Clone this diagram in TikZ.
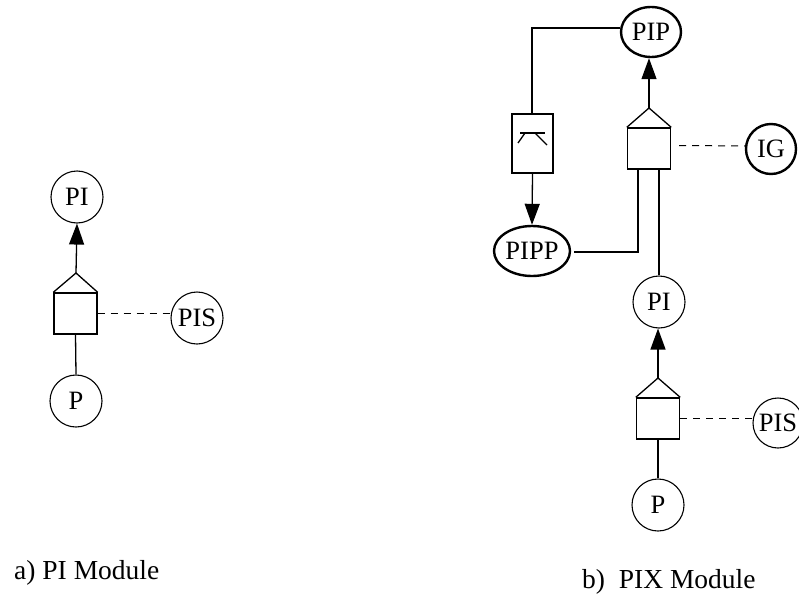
\documentclass[tikz,border=0pt]{standalone}
\usepackage{fontspec}
\setmainfont{Liberation Serif}
\usetikzlibrary{shapes.geometric,arrows.meta,calc}
\tikzset{
  place/.style={draw,ellipse,inner sep=0pt,line width=1.1pt,minimum width=52pt,minimum height=52pt,
    font=\fontsize{26.5}{26.5}\selectfont,text height=17.5pt,text depth=0pt,text width=0pt,align=center},
  heavy/.style={place,line width=2.4pt},
  gate/.style={draw,rectangle,inner sep=0pt,line width=1.4pt,minimum width=43pt,minimum height=41pt},
  wire/.style={line width=1.3pt},
  flow/.style={wire,-{Triangle[length=21pt,width=15pt]}},
  ctrl/.style={line width=1pt,dash pattern=on 7pt off 6pt},
  caption/.style={font=\fontsize{27.5}{30}\selectfont,anchor=base west,inner sep=0pt}
}
\newcommand{\mklabel}[1]{\makebox[0pt]{#1}}
\begin{document}
\begin{tikzpicture}[x=1pt,y=-1pt]
\useasboundingbox (0,0) rectangle (799,594);
% a) PI module
\node[place] (api) at (77,197) {\mklabel{PI}};
\node[place] (apis) at (197,318) {\mklabel{PIS}};
\node[place] (ap) at (76,401) {\mklabel{P}};
\node[gate] (abox) at (75.5,313.5) {};
\coordinate (aapex) at (76,273);
\draw[wire] (abox.north west) -- (aapex) -- (abox.north east);
\draw[flow] (aapex) -- (api.south);
\draw[wire] (abox.south) -- (ap.north);
\coordinate (adash) at (abox.east);
\draw[ctrl] (adash) -- (apis.west |- adash);
\node[caption] (acap) at (14,579) {a) PI Module};
% b) PIX module
\node[heavy,minimum width=60pt,minimum height=50pt] (pip) at (651,32) {\mklabel{PIP}};
\node[heavy,minimum width=50pt,minimum height=50pt] (ig) at (771,149) {\mklabel{IG}};
\node[heavy,minimum width=76pt,minimum height=50pt] (pipp) at (532,251) {\mklabel{PIPP}};
\node[gate] (ubox) at (649,148.5) {};
\coordinate (uapex) at (649,108);
\draw[wire] (ubox.north west) -- (uapex) -- (ubox.north east);
\draw[flow] (uapex) -- (pip.south -| uapex);
\coordinate (udash) at (ubox.east);
\draw[ctrl] ($(udash)+(8,-3)$) -- (ig.west |- 0,146);
\node[gate,minimum width=41pt,minimum height=59pt] (dbox) at (532.5,143.5) {};
\coordinate (dtop) at (532,28);
\draw[wire] (dbox.north -| dtop) -- (dtop) -- (pip.west |- dtop);
\draw[flow] (dbox.south) -- (pipp.north);
\draw[wire,line width=1.6pt] (520,133) -- (545,133);
\draw[wire] (525,133) -- (518,143) (535,133) -- (547,145);
\coordinate (pippin) at (638,252);
\draw[wire] (574,252) -- (pippin) -- (pippin |- ubox.south);
\node[place] (bpi) at (659,302) {\mklabel{PI}};
\draw[wire] (bpi.north) -- (bpi.north |- ubox.south);
\node[place,minimum width=50pt,minimum height=50pt] (bpis) at (778,423) {\mklabel{PIS}};
\node[place] (bp) at (658,505) {\mklabel{P}};
\node[gate] (bbox) at (658,418.5) {};
\coordinate (bapex) at (658,378);
\draw[wire] (bbox.north west) -- (bapex) -- (bbox.north east);
\draw[flow] (bapex) -- (bpi.south -| bapex);
\draw[wire] (bbox.south) -- (bp.north);
\coordinate (bdash) at (bbox.east);
\draw[ctrl] (bdash) -- (bpis.west |- bdash);
\node[caption] (bcap) at (582,588) {b)\hspace{0.5em}PIX Module};
\end{tikzpicture}
\end{document}
